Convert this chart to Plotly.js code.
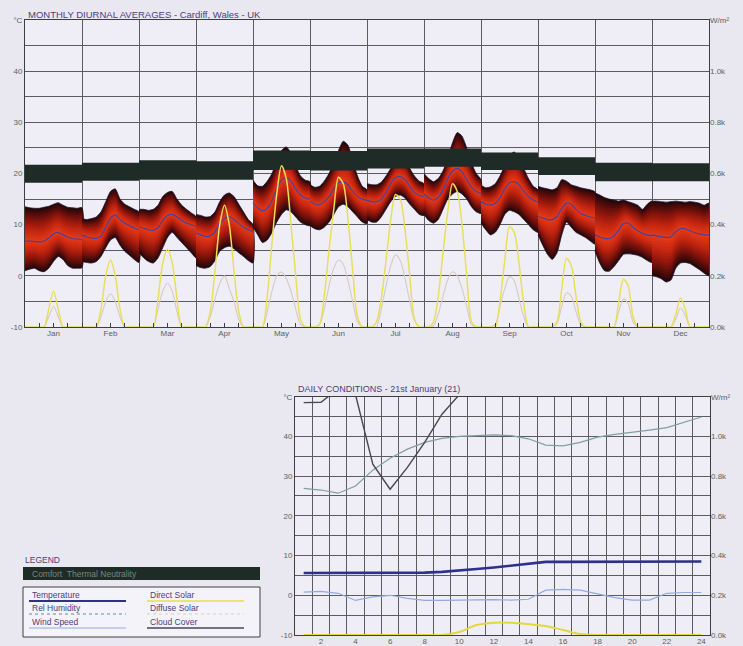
<!DOCTYPE html>
<html><head><meta charset="utf-8">
<script src="https://cdn.plot.ly/plotly-3.0.1.min.js"></script>
<style>html,body{margin:0;padding:0;background:#e9e8f1;}#chart{width:743px;height:646px;}</style>
</head><body><div id="chart"></div>
<script>
// ---------- DATA: monthly diurnal averages (hours 0..24 step 2) ----------
const months = ['Jan','Feb','Mar','Apr','May','Jun','Jul','Aug','Sep','Oct','Nov','Dec'];
const monthHours = [0,2,4,6,8,10,12,14,16,18,20,22,24];
const tMax = [
 [13.5,13.3,13.2,13.2,13.4,13.6,14.0,14.3,13.8,13.4,13.3,13.2,13.3],
 [11.2,11.0,11.2,11.5,12.5,14.5,16.5,17.0,15.0,14.0,13.5,13.0,12.5],
 [13.0,13.0,12.8,13.0,13.8,15.5,16.3,16.5,15.0,13.8,13.0,12.3,11.6],
 [12.0,11.8,11.5,11.6,12.5,14.5,15.8,16.2,15.5,14.0,12.5,11.0,10.0],
 [18.7,17.6,17.5,18.5,20.0,22.5,24.5,25.2,24.0,21.5,19.5,18.7,18.4],
 [17.8,17.3,17.5,18.5,20.0,22.0,24.5,26.3,25.5,22.5,19.5,17.5,16.8],
 [18.0,17.8,17.8,18.3,19.5,21.0,22.5,23.3,22.8,21.0,19.5,18.5,18.0],
 [20.0,19.0,18.4,19.0,20.5,23.0,26.0,28.0,27.3,25.0,22.0,20.0,18.8],
 [17.7,17.2,17.4,18.0,19.5,21.5,23.5,24.2,23.0,21.0,19.0,17.5,16.8],
 [17.5,17.2,17.0,16.8,17.2,18.8,18.5,17.8,17.5,17.2,17.0,16.8,16.4],
 [16.2,15.8,15.3,15.0,14.8,14.6,14.8,14.5,14.2,13.8,13.0,14.0,14.6],
 [14.6,14.6,14.5,14.4,14.5,14.6,14.5,14.4,14.5,14.4,14.2,13.8,14.2]
];
const tMin = [
 [1.0,1.3,1.5,1.0,0.8,1.5,2.8,3.8,3.2,2.0,1.5,1.5,1.6],
 [2.8,2.6,2.5,2.8,3.8,5.5,7.0,7.5,6.0,4.8,4.0,3.2,2.6],
 [4.5,3.5,2.8,2.5,3.5,5.5,7.5,8.5,7.5,6.5,5.5,4.5,3.5],
 [2.0,1.6,1.5,1.8,3.0,4.8,5.5,5.8,5.3,4.5,3.8,3.0,2.5],
 [9.5,8.0,6.5,7.0,8.5,10.5,12.0,12.9,12.5,11.5,10.5,10.0,9.8],
 [9.8,9.2,9.0,9.5,10.5,12.0,13.5,14.0,13.5,12.5,11.5,10.5,10.2],
 [11.0,10.5,10.5,11.5,13.0,14.5,15.5,15.8,15.2,14.0,13.0,12.0,11.8],
 [12.0,10.8,10.3,11.0,13.0,15.0,16.0,16.5,16.0,15.0,13.5,12.5,12.2],
 [10.3,9.0,8.0,8.5,10.0,12.0,12.8,12.5,12.0,11.0,10.0,9.0,8.5],
 [8.0,6.0,4.2,3.2,4.5,8.0,10.5,9.5,8.5,8.0,7.5,6.8,6.2],
 [4.8,2.5,1.0,0.9,1.8,3.0,4.2,4.3,4.2,4.0,3.6,3.0,2.6],
 [0.0,-0.2,-0.6,-1.2,-0.8,1.5,2.5,2.6,2.4,1.8,1.2,0.5,0.0]
];
const tMean = [
 [6.8,6.8,6.7,6.6,6.8,7.4,8.2,8.5,8.0,7.6,7.3,7.2,7.0],
 [8.0,7.6,7.4,7.3,7.8,9.5,11.3,11.9,11.0,10.3,9.8,9.3,9.0],
 [9.6,9.3,9.0,8.9,9.4,10.8,11.8,12.0,11.5,10.8,10.3,10.0,9.7],
 [8.4,8.0,7.7,7.8,8.6,10.2,11.2,11.6,11.0,10.2,9.5,9.0,8.6],
 [14.3,13.3,12.7,13.2,14.8,17.0,18.7,19.2,18.5,17.0,15.8,15.2,15.0],
 [14.6,14.0,13.9,14.5,15.5,17.0,18.2,18.4,17.8,16.5,15.5,15.0,14.7],
 [14.8,14.5,14.5,15.0,16.3,18.0,19.2,19.4,18.8,17.5,16.3,15.7,15.5],
 [16.0,15.2,14.8,15.3,16.8,19.0,20.5,21.0,20.3,18.8,17.3,16.5,16.1],
 [14.5,14.0,13.8,14.2,15.3,17.0,18.2,18.4,17.8,16.5,15.5,14.8,14.4],
 [11.6,11.3,11.0,11.0,11.6,13.2,14.2,14.0,13.0,12.2,11.8,11.5,11.3],
 [8.0,7.6,7.3,7.3,7.8,9.0,10.2,10.3,9.5,8.8,8.3,8.0,7.8],
 [8.0,7.8,7.6,7.5,7.6,8.6,9.2,9.2,8.8,8.4,8.2,8.0,8.0]
];
const comfortLow  = [18.2,18.6,18.8,18.8,20.7,20.6,21.0,21.3,20.7,19.7,18.5,18.5];
const comfortHigh = [21.7,22.1,22.6,22.4,24.5,24.4,24.9,24.9,24.1,23.2,22.1,22.0];
const directSolar = [
 [0,0,0,0,0,70,140,70,0,0,0,0,0],
 [0,0,0,0,70,200,262,200,70,0,0,0,0],
 [0,0,0,0,110,250,304,250,110,0,0,0,0],
 [0,0,0,60,220,400,476,400,220,60,0,0,0],
 [0,0,0,120,330,520,630,580,400,200,30,0,0],
 [0,0,10,120,300,460,585,560,420,220,40,0,0],
 [0,0,20,110,260,420,518,500,380,200,30,0,0],
 [0,0,20,120,290,450,560,530,400,200,20,0,0],
 [0,0,0,0,100,260,392,370,250,90,0,0,0],
 [0,0,0,0,20,150,269,240,120,20,0,0,0],
 [0,0,0,0,0,100,187,160,40,0,0,0,0],
 [0,0,0,0,0,50,113,70,0,0,0,0,0]
];
const diffuseSolar = [
 [0,0,0,0,0,40,80,40,0,0,0,0,0],
 [0,0,0,0,40,100,130,100,40,0,0,0,0],
 [0,0,0,0,70,140,172,140,60,0,0,0,0],
 [0,0,0,40,110,170,200,150,100,30,0,0,0],
 [0,0,0,60,140,200,215,190,140,70,10,0,0],
 [0,0,10,70,160,230,262,245,180,100,20,0,0],
 [0,0,0,70,160,240,282,260,190,100,25,0,0],
 [0,0,5,50,120,185,216,200,150,80,10,0,0],
 [0,0,0,10,80,150,197,180,110,40,0,0,0],
 [0,0,0,0,15,80,133,120,60,10,0,0,0],
 [0,0,0,0,0,60,110,90,20,0,0,0,0],
 [0,0,0,0,0,30,74,45,0,0,0,0,0]
];

// ---------- DATA: daily conditions, 21st January ----------
const dayHours = [1,2,3,4,5,6,7,8,9,10,11,12,13,14,15,16,17,18,19,20,21,22,23,24];
const dayTemp  = [5.6,5.6,5.6,5.6,5.6,5.6,5.6,5.7,5.9,6.2,6.6,7.0,7.5,8.0,8.4,8.4,8.4,8.4,8.4,8.4,8.5,8.5,8.5,8.5];
const dayRH    = [26.9,26.5,25.7,27.5,31.5,34.5,36.8,38.5,39.5,40.0,40.2,40.4,40.2,39.4,37.8,37.6,38.5,39.8,40.5,41.0,41.6,42.2,43.5,44.9];
const dayWind  = [0.8,1.0,0.5,-1.3,-0.4,0.0,-0.8,-1.3,-1.3,-1.2,-1.1,-1.1,-1.2,-1.0,1.3,1.5,1.3,0.4,-0.6,-1.2,-1.2,0.5,0.7,0.7];
const dayCloud = [48.5,48.6,52,50.5,33,26.7,32.2,38.5,45.6,50.5,60,60,60,60,60,60,60,60,60,60,60,60,60,60];
const dayDirect= [0,0,0,0,0,0,0,0,0,15,50,62,62,55,45,25,5,0,0,0,0,0,0,0];

// ---------- BUILD ----------
const W = 743, H = 646;
const fx = p => p / W, fy = p => 1 - p / H;
const GRID = '#5c5c5c', AX = '#3e3e3e', TXT = '#606060', TITLE = '#4e3c7e';
const FONT = 'Liberation Sans, Arial, sans-serif';
const traces = [];

// colour ramp for the density band: edge (dark) -> centre (bright red)
const stops = [[0,[38,8,10]],[0.15,[80,12,10]],[0.4,[140,22,12]],[0.7,[196,38,16]],[1,[226,56,24]]];
function ramp(t){
  for (let s = 1; s < stops.length; s++){
    if (t <= stops[s][0]){
      const a = stops[s-1], b = stops[s], u = (t - a[0]) / (b[0] - a[0]);
      return 'rgb(' + a[1].map((v,k)=>Math.round(v + (b[1][k]-v)*u)).join(',') + ')';
    }
  }
  return 'rgb(' + stops[stops.length-1][1].join(',') + ')';
}
const NL = 14;
const layers = [];
for (let k = 0; k < NL; k++){ const f = 1 - k / NL; layers.push([f, ramp(k / (NL - 1))]); }

months.forEach((m, i) => {
  const xs = monthHours.map(h => i * 24 + h);
  const xr = xs.slice().reverse();
  layers.forEach(([f, c], k) => {
    const up = tMean[i].map((v, j) => v + (tMax[i][j] - v) * f);
    const lo = tMean[i].map((v, j) => v - (v - tMin[i][j]) * f);
    traces.push({type:'scatter', mode:'lines', x: xs.concat(xr), y: up.concat(lo.slice().reverse()),
      fill:'toself', fillcolor:c, line:{width: k === 0 ? 0.8 : 0, color:'#24102e', shape:'spline', smoothing:0.6},
      hoverinfo:'skip', xaxis:'x', yaxis:'y'});
  });
});
months.forEach((m, i) => {
  const x0 = i * 24, x1 = i * 24 + 24;
  traces.push({type:'scatter', mode:'lines', x:[x0,x1,x1,x0], y:[comfortLow[i],comfortLow[i],comfortHigh[i],comfortHigh[i]],
    fill:'toself', fillcolor:'#1f2b26', line:{width:0}, hoverinfo:'skip', xaxis:'x', yaxis:'y'});
});
months.forEach((m, i) => {
  const xs = monthHours.map(h => i * 24 + h);
  traces.push({type:'scatter', mode:'lines', x: xs, y: tMean[i], line:{color:'#47409a', width:1.2, shape:'spline', smoothing:0.6}, hoverinfo:'skip', xaxis:'x', yaxis:'y'});
  traces.push({type:'scatter', mode:'lines', x: xs, y: diffuseSolar[i], line:{color:'#d8cac2', width:1.1, shape:'spline', smoothing:0.8}, hoverinfo:'skip', xaxis:'x', yaxis:'y2'});
  traces.push({type:'scatter', mode:'lines', x: xs, y: directSolar[i], line:{color:'#e8df5c', width:1.5, shape:'spline', smoothing:0.8}, hoverinfo:'skip', xaxis:'x', yaxis:'y2'});
});
// overlay axis holders
traces.push({type:'scatter', x:[], y:[], xaxis:'x2', yaxis:'y', hoverinfo:'skip'});
traces.push({type:'scatter', x:[], y:[], xaxis:'x3', yaxis:'y', hoverinfo:'skip'});
traces.push({type:'scatter', x:[], y:[], xaxis:'x5', yaxis:'y3', hoverinfo:'skip'});

// daily chart
traces.push({type:'scatter', mode:'lines', x: dayHours, y: dayWind, line:{color:'#93a9e2', width:1.2}, xaxis:'x4', yaxis:'y3', hoverinfo:'skip'});
traces.push({type:'scatter', mode:'lines', x: dayHours, y: dayRH, line:{color:'#7f9fa0', width:1.2}, xaxis:'x4', yaxis:'y3', hoverinfo:'skip'});
traces.push({type:'scatter', mode:'lines', x: dayHours, y: dayCloud, line:{color:'#4a4652', width:1.4}, xaxis:'x4', yaxis:'y3', hoverinfo:'skip'});
traces.push({type:'scatter', mode:'lines', x: dayHours, y: dayDirect, line:{color:'#e2d83e', width:2, shape:'spline'}, xaxis:'x4', yaxis:'y4', hoverinfo:'skip'});
traces.push({type:'scatter', mode:'lines', x: dayHours, y: dayTemp, line:{color:'#2e318c', width:2.6}, xaxis:'x4', yaxis:'y3', hoverinfo:'skip'});

// ticks
const tempTicks = [], tempText = [];
for (let v = -10; v <= 50; v += 5) { tempTicks.push(v); tempText.push(v === 50 ? '°C' : (v % 10 === 0 ? String(v) : '')); }
const solTicks = [0,200,400,600,800,1000,1200];
const solText = ['0.0k','0.2k','0.4k','0.6k','0.8k','1.0k','W/m²'];
const monthGrid = months.map((m, i) => i * 24).concat([288]);
const monthCenters = months.map((m, i) => i * 24 + 12);
const hourGrid = []; for (let v = 0.5; v <= 24.5; v += 1) hourGrid.push(v);
const hourLabels = dayHours.filter(h => h % 2 === 0);

const tf = {family: FONT, size: 8, color: TXT};
const topX = [fx(25), fx(709)], topY = [fy(327), fy(20)];
const botX = [fx(295), fx(710)], botY = [fy(635), fy(396.7)];

const legendItems = [
  ['Temperature', 30, 595, '#2e318c', 2, 'solid'],
  ['Direct Solar', 148, 595, '#e6e04e', 1.6, 'solid'],
  ['Rel Humidity', 30, 608, '#5f9090', 1.2, 'dot'],
  ['Diffuse Solar', 148, 608, '#d9d2bc', 1.2, 'dot'],
  ['Wind Speed', 30, 622, '#93a9e2', 1.2, 'solid'],
  ['Cloud Cover', 148, 622, '#4a4652', 1.4, 'solid']
];
const shapes = [
  {type:'rect', xref:'paper', yref:'paper', x0:fx(23), x1:fx(260), y0:fy(580), y1:fy(567), fillcolor:'#1f2b26', line:{width:0}},
  {type:'rect', xref:'paper', yref:'paper', x0:fx(23), x1:fx(260), y0:fy(637), y1:fy(587), fillcolor:'#f3f3f9', line:{color:'#404040', width:1}}
];
const annotations = [
  {text:'MONTHLY DIURNAL AVERAGES - Cardiff, Wales - UK', xref:'paper', yref:'paper', x:fx(26), y:fy(14), xanchor:'left', yanchor:'middle', showarrow:false, font:{family:FONT, size:9.5, color:TITLE}},
  {text:'DAILY CONDITIONS - 21st January (21)', xref:'paper', yref:'paper', x:fx(296), y:fy(389), xanchor:'left', yanchor:'middle', showarrow:false, font:{family:FONT, size:9, color:TITLE}},
  {text:'LEGEND', xref:'paper', yref:'paper', x:fx(23), y:fy(560), xanchor:'left', yanchor:'middle', showarrow:false, font:{family:FONT, size:8.5, color:TITLE}},
  {text:'Comfort  Thermal Neutrality', xref:'paper', yref:'paper', x:fx(30), y:fy(574), xanchor:'left', yanchor:'middle', showarrow:false, font:{family:FONT, size:8.5, color:'#7b867d'}}
];
legendItems.forEach(([t, x, y, c, w, d]) => {
  annotations.push({text:t, xref:'paper', yref:'paper', x:fx(x), y:fy(y), xanchor:'left', yanchor:'middle', showarrow:false, font:{family:FONT, size:8.5, color:TITLE}});
  shapes.push({type:'line', xref:'paper', yref:'paper', x0:fx(x - 1), x1:fx(x + 96), y0:fy(y + 6), y1:fy(y + 6), line:{color:c, width:w, dash:d}});
});

const layout = {
  width: W, height: H, margin:{l:0, r:0, t:0, b:0},
  paper_bgcolor:'#e9e8f1', plot_bgcolor:'#efeef7', showlegend:false,
  font:{family: FONT, size: 8, color: TXT},
  xaxis:{domain: topX, range:[0,288], tickmode:'array', tickvals: monthGrid, showticklabels:false, ticks:'',
    showgrid:true, gridcolor:GRID, gridwidth:1, zeroline:false, showline:true, mirror:true, linecolor:AX, linewidth:1, anchor:'y'},
  xaxis2:{overlaying:'x', range:[0,288], tickmode:'array', tickvals: monthCenters, ticktext: months, ticks:'', showgrid:false,
    zeroline:false, tickfont: tf, anchor:'y', side:'bottom'},
  xaxis3:{overlaying:'x', range:[0,288], tick0:0, dtick:6, ticks:'inside', ticklen:4, tickcolor:AX, showticklabels:false,
    showgrid:false, zeroline:false, anchor:'y', side:'bottom'},
  yaxis:{domain: topY, range:[-10,50], tickmode:'array', tickvals: tempTicks, ticktext: tempText, ticks:'', showgrid:true,
    gridcolor:GRID, gridwidth:1, zeroline:false, showline:true, mirror:true, linecolor:AX, tickfont: tf, anchor:'x'},
  yaxis2:{overlaying:'y', side:'right', range:[0,1200], tickmode:'array', tickvals: solTicks, ticktext: solText, ticks:'',
    showgrid:false, zeroline:false, tickfont: tf, anchor:'x'},
  xaxis4:{domain: botX, range:[0.5,24.5], tickmode:'array', tickvals: hourGrid, showticklabels:false, ticks:'',
    showgrid:true, gridcolor:GRID, gridwidth:1, zeroline:false, showline:true, mirror:true, linecolor:AX, anchor:'y3'},
  xaxis5:{overlaying:'x4', range:[0.5,24.5], tickmode:'array', tickvals: hourLabels, ticks:'', showgrid:false, zeroline:false,
    tickfont: tf, anchor:'y3', side:'bottom'},
  yaxis3:{domain: botY, range:[-10,50], tickmode:'array', tickvals: tempTicks, ticktext: tempText, ticks:'', showgrid:true,
    gridcolor:GRID, gridwidth:1, zeroline:false, showline:true, mirror:true, linecolor:AX, tickfont: tf, anchor:'x4'},
  yaxis4:{overlaying:'y3', side:'right', range:[0,1200], tickmode:'array', tickvals: solTicks, ticktext: solText, ticks:'',
    showgrid:false, zeroline:false, tickfont: tf, anchor:'x4'},
  shapes: shapes, annotations: annotations
};
Plotly.newPlot('chart', traces, layout, {staticPlot:true, displayModeBar:false});
</script></body></html>
